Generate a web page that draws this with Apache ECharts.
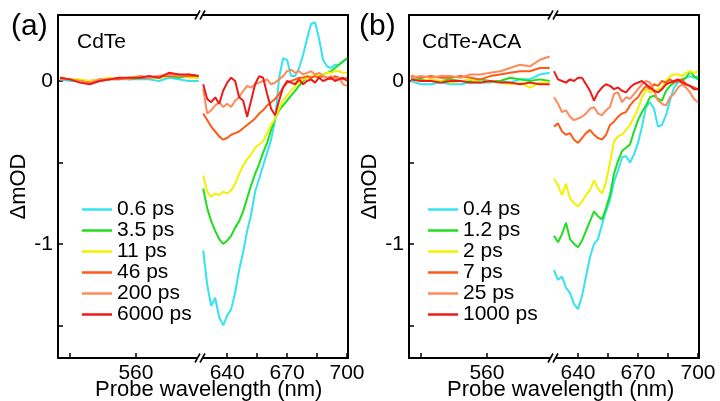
<!DOCTYPE html>
<html><head><meta charset="utf-8">
<script src="https://cdn.jsdelivr.net/npm/echarts@6/dist/echarts.min.js"></script>
<style>html,body{margin:0;padding:0;background:#fff}#c{width:720px;height:401px}</style>
</head><body><div id="c"></div>
<script>
const FONT = '"Liberation Sans", Arial, sans-serif';
const leftX = [537,540,543,546,549,552,555,558,561,564,567,570,573,576,579];
const rightX = [628,630,632,634,636,638,640,642,644,646,648,650,652,654,656,658,660,662,664,666,668,670,672,674,676,678,680,682,684,686,688,690,692,694,696,698,700];
const namesA = ['0.6 ps','3.5 ps','11 ps','46 ps','200 ps','6000 ps'];
const namesB = ['0.4 ps','1.2 ps','2 ps','7 ps','25 ps','1000 ps'];
const colors = ['#33E3F0','#1EDE1E','#F2F200','#FF5A18','#FF8A5C','#EE1A1A'];
const yTicks = [-1.5,-1,-0.5,0];
const yLabels = [-1,0];
const leftTicks = [540,560];
const leftLabels = [560];
const rightTicks = [640,655,670,685,700];
const rightLabels = [640,670,700];

// Panel (a) CdTe, left segment
const aL_0p6 = [0.01,0.00,0.00,-0.01,0.00,0.01,0.01,0.01,0.01,0.01,0.00,0.02,0.01,0.00,0.00];
const aL_3p5 = [0.01,0.01,0.00,0.00,0.01,0.01,0.02,0.01,0.02,0.02,0.02,0.03,0.02,0.03,0.02];
const aL_11 = [0.02,0.01,0.01,0.00,0.01,0.02,0.01,0.02,0.03,0.02,0.02,0.03,0.04,0.02,0.02];
const aL_46 = [0.02,0.01,0.00,-0.01,0.00,0.01,0.01,0.02,0.02,0.02,0.03,0.03,0.03,0.03,0.03];
const aL_200 = [0.01,0.01,0.00,-0.01,0.01,0.01,0.02,0.01,0.03,0.02,0.03,0.04,0.03,0.04,0.03];
const aL_6000 = [0.02,0.01,-0.01,-0.02,0.00,0.01,0.02,0.02,0.02,0.03,0.02,0.05,0.04,0.04,0.03];
// Panel (a) right segment
const aR_0p6 = [-1.04,-1.25,-1.38,-1.33,-1.45,-1.50,-1.44,-1.40,-1.30,-1.16,-1.05,-0.92,-0.82,-0.68,-0.60,-0.52,-0.44,-0.36,-0.24,0.02,0.14,0.13,0.03,0.03,0.08,0.16,0.26,0.35,0.36,0.26,0.13,0.09,0.08,0.10,0.10,0.12,0.14];
const aR_3p5 = [-0.66,-0.78,-0.86,-0.92,-0.97,-1.00,-0.98,-0.95,-0.90,-0.86,-0.80,-0.72,-0.64,-0.57,-0.51,-0.44,-0.38,-0.30,-0.23,-0.18,-0.15,-0.12,-0.09,-0.06,-0.03,0.00,0.02,0.02,0.03,0.03,0.04,0.05,0.06,0.08,0.10,0.12,0.14];
const aR_11 = [-0.58,-0.68,-0.71,-0.69,-0.70,-0.68,-0.69,-0.67,-0.63,-0.57,-0.52,-0.48,-0.45,-0.41,-0.39,-0.37,-0.32,-0.27,-0.23,-0.17,-0.12,-0.09,-0.06,-0.03,-0.01,0.01,0.02,0.03,0.03,0.04,0.04,0.05,0.05,0.06,0.06,0.05,0.05];
const aR_46 = [-0.20,-0.24,-0.28,-0.31,-0.34,-0.36,-0.35,-0.33,-0.32,-0.31,-0.29,-0.27,-0.25,-0.23,-0.20,-0.18,-0.15,-0.13,-0.11,-0.08,-0.04,-0.01,0.00,0.01,0.02,0.02,0.03,0.02,0.03,0.02,0.03,0.02,0.01,0.03,0.02,0.01,0.02];
const aR_200 = [-0.05,-0.20,-0.18,-0.15,-0.13,-0.16,-0.14,-0.16,-0.12,-0.10,-0.06,-0.03,-0.04,-0.02,-0.01,0.00,0.01,-0.02,-0.01,0.01,0.03,0.06,0.07,0.05,0.06,0.04,0.05,0.06,0.04,0.05,0.03,0.02,0.03,0.01,0.02,-0.02,-0.03];
const aR_6000 = [-0.02,-0.11,-0.13,-0.10,-0.14,-0.06,-0.01,0.02,0.00,-0.10,-0.12,-0.22,-0.12,-0.02,0.03,0.02,-0.08,-0.17,-0.21,-0.12,-0.04,0.00,-0.01,-0.02,0.01,-0.02,0.00,0.01,-0.01,0.02,0.00,0.01,0.02,0.00,0.01,0.02,0.00];

// Panel (b) CdTe-ACA, left segment
const bL_0p4 = [0.00,-0.02,-0.02,-0.01,-0.02,-0.02,-0.01,-0.01,-0.01,0.00,-0.01,0.01,0.01,0.04,0.05];
const bL_1p2 = [0.01,0.01,0.00,0.00,0.01,0.00,0.00,0.01,0.00,0.00,0.02,0.01,0.00,0.01,0.00];
const bL_2 = [0.01,0.00,0.01,0.00,-0.01,0.00,0.01,-0.01,0.00,-0.01,-0.02,-0.01,-0.04,-0.01,-0.01];
const bL_7 = [0.03,0.02,0.03,0.02,0.02,0.03,0.02,0.01,0.03,0.04,0.05,0.06,0.06,0.08,0.08];
const bL_25 = [0.02,0.03,0.02,0.03,0.03,0.02,0.04,0.04,0.05,0.06,0.08,0.10,0.09,0.13,0.15];
const bL_1000 = [0.01,0.00,0.00,-0.01,0.00,0.00,-0.01,-0.01,0.00,-0.01,-0.01,-0.02,-0.01,-0.02,-0.02];
// Panel (b) right segment
const bR_0p4 = [-1.16,-1.22,-1.20,-1.27,-1.30,-1.37,-1.40,-1.32,-1.20,-1.08,-1.00,-0.97,-0.88,-0.80,-0.73,-0.62,-0.55,-0.47,-0.46,-0.50,-0.45,-0.38,-0.28,-0.16,-0.13,-0.17,-0.28,-0.27,-0.21,-0.12,-0.04,-0.01,0.00,0.02,0.03,0.02,0.03];
const bR_1p2 = [-0.95,-0.99,-0.94,-0.87,-0.97,-1.00,-1.02,-0.98,-0.92,-0.86,-0.80,-0.83,-0.85,-0.78,-0.70,-0.57,-0.49,-0.43,-0.41,-0.39,-0.31,-0.24,-0.19,-0.15,-0.10,-0.09,-0.11,-0.12,-0.06,-0.03,-0.01,0.00,0.01,0.02,0.06,0.03,0.01];
const bR_2 = [-0.60,-0.64,-0.70,-0.63,-0.72,-0.75,-0.77,-0.74,-0.70,-0.67,-0.61,-0.66,-0.69,-0.62,-0.50,-0.37,-0.34,-0.33,-0.30,-0.27,-0.22,-0.17,-0.10,-0.05,-0.07,-0.06,-0.05,-0.04,0.00,0.03,0.04,0.04,0.03,0.05,0.06,0.05,0.06];
const bR_7 = [-0.28,-0.26,-0.31,-0.33,-0.32,-0.36,-0.38,-0.35,-0.32,-0.30,-0.33,-0.35,-0.36,-0.33,-0.27,-0.25,-0.22,-0.20,-0.19,-0.15,-0.12,-0.10,-0.06,-0.03,-0.05,-0.02,-0.03,0.00,-0.01,0.01,-0.01,0.00,0.01,-0.02,-0.03,-0.04,-0.05];
const bR_25 = [-0.10,-0.14,-0.19,-0.18,-0.22,-0.24,-0.23,-0.22,-0.20,-0.17,-0.16,-0.20,-0.21,-0.18,-0.16,-0.08,-0.07,-0.13,-0.10,-0.11,-0.08,-0.05,-0.02,0.00,-0.01,-0.06,-0.12,-0.14,-0.15,-0.10,-0.08,-0.04,-0.02,-0.04,-0.07,-0.11,-0.13];
const bR_1000 = [0.06,0.01,0.00,-0.01,0.01,0.00,0.02,0.02,-0.02,-0.06,-0.12,-0.07,-0.04,-0.02,-0.03,-0.05,-0.04,-0.06,-0.07,-0.04,-0.02,-0.01,0.00,-0.02,-0.04,-0.06,-0.07,-0.05,-0.02,-0.01,0.00,0.01,-0.01,-0.02,-0.03,-0.05,-0.05];

const aLeft = [aL_0p6,aL_3p5,aL_11,aL_46,aL_200,aL_6000];
const aRight = [aR_0p6,aR_3p5,aR_11,aR_46,aR_200,aR_6000];
const bLeft = [bL_0p4,bL_1p2,bL_2,bL_7,bL_25,bL_1000];
const bRight = [bR_0p4,bR_1p2,bR_2,bR_7,bR_25,bR_1000];

// layout
const TOP = 15, H = 343;
const grids = [
  {left:58, top:TOP, width:142, height:H},
  {left:200, top:TOP, width:148, height:H},
  {left:409, top:TOP, width:144, height:H},
  {left:553, top:TOP, width:146, height:H}
];
const xRanges = [[536.4,579.4],[626.4,700.5],[536.4,580],[627.5,700.5]];
const Y_MIN = -1.7, Y_MAX = 0.405;

const lineStyleAxis = {color:'#000', width:2};
const xAxis = [], yAxis = [];
grids.forEach((g,i)=>{
  const isLeft = (i % 2 === 0);
  xAxis.push({
    type:'value', gridIndex:i, position:'bottom', min:xRanges[i][0], max:xRanges[i][1],
    splitLine:{show:false},
    axisLine:{show:true, onZero:false, lineStyle:lineStyleAxis},
    axisTick:{show:true, inside:true, length:5, lineStyle:{color:'#000',width:1.5}, customValues: isLeft?leftTicks:rightTicks},
    axisLabel:{show:true, color:'#000', fontSize:21, fontFamily:FONT, margin:5, customValues: isLeft?leftLabels:rightLabels, hideOverlap:false}
  });
  xAxis.push({
    type:'value', gridIndex:i, position:'top', min:xRanges[i][0], max:xRanges[i][1],
    splitLine:{show:false}, axisLine:{show:true, onZero:false, lineStyle:lineStyleAxis},
    axisTick:{show:false}, axisLabel:{show:false}
  });
  if (isLeft) {
    yAxis.push({
      type:'value', gridIndex:i, position:'left', min:Y_MIN, max:Y_MAX,
      name:'ΔmOD', nameLocation:'middle', nameRotate:90, nameGap:22,
      nameTextStyle:{color:'#000', fontSize:22, fontFamily:FONT},
      splitLine:{show:false}, axisLine:{show:true, onZero:false, lineStyle:lineStyleAxis},
      axisTick:{show:true, inside:true, length:5, lineStyle:{color:'#000',width:1.5}, customValues:yTicks},
      axisLabel:{show:true, color:'#000', fontSize:21, fontFamily:FONT, margin:5, customValues:yLabels}
    });
  } else {
    yAxis.push({
      type:'value', gridIndex:i, position:'right', min:Y_MIN, max:Y_MAX,
      splitLine:{show:false}, axisLine:{show:true, onZero:false, lineStyle:lineStyleAxis},
      axisTick:{show:false}, axisLabel:{show:false}
    });
  }
});

const series = [];
function addSeries(names, lefts, rights, gL, gR) {
  names.forEach((nm,k)=>{
    series.push({type:'line', name:nm, xAxisIndex:gL*2, yAxisIndex:gL, symbol:'none', color:colors[k],
      lineStyle:{width:2, color:colors[k]}, animation:false,
      data:leftX.map((x,j)=>[x, lefts[k][j]])});
    series.push({type:'line', name:nm, xAxisIndex:gR*2, yAxisIndex:gR, symbol:'none', color:colors[k],
      lineStyle:{width:2, color:colors[k]}, animation:false,
      data:rightX.map((x,j)=>[x, rights[k][j]])});
  });
}
addSeries(namesA, aLeft, aRight, 0, 1);
addSeries(namesB, bLeft, bRight, 2, 3);

// break marks on the axes
const graphic = [];
[[200],[553]].forEach(([bx])=>{
  [TOP, TOP+H].forEach(by=>{
    graphic.push({type:'rect', shape:{x:bx-2.5, y:by-3, width:5, height:6}, style:{fill:'#fff'}, z:100});
    graphic.push({type:'line', shape:{x1:bx-5, y1:by+4.5, x2:bx, y2:by-4.5}, style:{stroke:'#000', lineWidth:1.6}, z:101});
    graphic.push({type:'line', shape:{x1:bx, y1:by+4.5, x2:bx+5, y2:by-4.5}, style:{stroke:'#000', lineWidth:1.6}, z:101});
  });
});

const ts = (s)=>({color:'#000', fontFamily:FONT, fontWeight:'normal', fontSize:s});
const option = {
  backgroundColor:'#fff',
  animation:false,
  grid: grids,
  xAxis, yAxis, series, graphic,
  title: [
    {text:'(a)', left:11, top:12, textStyle:ts(30), padding:0},
    {text:'(b)', left:359, top:12, textStyle:ts(30), padding:0},
    {text:'CdTe', left:77, top:32, textStyle:ts(21), padding:0},
    {text:'CdTe-ACA', left:422, top:32, textStyle:ts(21), padding:0},
    {text:'Probe wavelength (nm)', left:95, top:379, textStyle:ts(22), padding:0},
    {text:'Probe wavelength (nm)', left:447, top:379, textStyle:ts(22), padding:0}
  ],
  legend: [
    {data:namesA, orient:'vertical', left:82, top:199, itemWidth:30, itemHeight:2.5, itemGap:0, icon:'rect', padding:0,
     textStyle:{color:'#000', fontSize:21, fontFamily:FONT, lineHeight:21}, selectedMode:false},
    {data:namesB, orient:'vertical', left:428, top:199, itemWidth:30, itemHeight:2.5, itemGap:0, icon:'rect', padding:0,
     textStyle:{color:'#000', fontSize:21, fontFamily:FONT, lineHeight:21}, selectedMode:false}
  ]
};
const chart = echarts.init(document.getElementById('c'), null, {renderer:'canvas'});
chart.setOption(option);
</script>
</body></html>
